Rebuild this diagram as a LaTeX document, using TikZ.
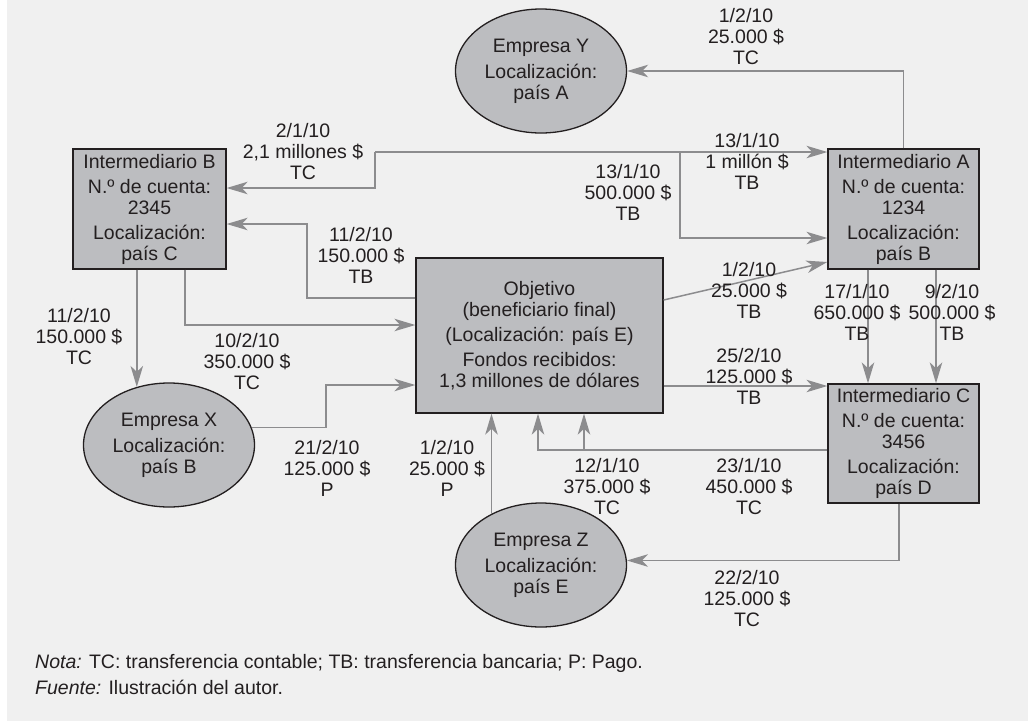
\documentclass[tikz,border=0pt]{standalone}
\usepackage{fontspec}
\setmainfont{Liberation Sans}
\usetikzlibrary{arrows.meta,shapes.geometric}

\definecolor{panel}{HTML}{F0F0F0}
\definecolor{boxfill}{HTML}{BCBDC0}
\definecolor{flow}{HTML}{8C8C8E}
\definecolor{ink}{HTML}{231F20}

\tikzset{
  txt/.style={font=\fontsize{19.5}{21}\selectfont, text=ink, align=center, inner sep=0pt},
  entity/.style={txt, draw=ink, fill=boxfill, line width=1.3pt, rectangle},
  company/.style={txt, draw=ink, fill=boxfill, line width=1.3pt, ellipse,
                  minimum width=171pt, minimum height=124pt},
  flowline/.style={draw=flow, line width=1.5pt,
                   -{Stealth[length=21pt,width=12.5pt,inset=6pt]}},
  flowplain/.style={draw=flow, line width=1.5pt},
  amount/.style={txt}
}

\begin{document}
\begin{tikzpicture}[x=1pt,y=-1pt]
  % panel
  \useasboundingbox (0,0) rectangle (1028,721);
  \fill[white] (0,0) rectangle (1028,721);
  \fill[panel] (7,0) rectangle (1028,721);

  % account holders
  \node[entity, minimum width=153pt, minimum height=120pt] (B) at (149.5,209)
    {Intermediario B\\[4pt]N.º de cuenta:\\2345\\[4pt]Localización:\\país C};
  \node[entity, minimum width=151pt, minimum height=120pt] (A) at (903.5,209)
    {Intermediario A\\[4pt]N.º de cuenta:\\1234\\[4pt]Localización:\\país B};
  \node[entity, minimum width=151pt, minimum height=119pt] (C) at (903.5,443.5)
    {Intermediario C\\[4pt]N.º de cuenta:\\3456\\[4pt]Localización:\\país D};
  \node[entity, minimum width=247pt, minimum height=155pt] (O) at (539.5,335.5)
    {Objetivo\\(beneficiario final)\\[4pt](Localización: país E)\\[4pt]Fondos recibidos:\\1,3 millones de dólares};

  % companies
  \node[company] (Y) at (541,71)  {Empresa Y\\[5pt]Localización:\\país A};
  \node[company] (X) at (169,445) {Empresa X\\[5pt]Localización:\\país B};
  \node[company] (Z) at (541,565) {Empresa Z\\[5pt]Localización:\\país E};

  % helper coordinates for the routed lines
  \coordinate (jTop) at (375,152);
  \coordinate (jMid) at (680,152);
  \coordinate (yB1)  at (0,188);
  \coordinate (yA2)  at (0,238);
  \coordinate (kB3)  at (307,224);
  \coordinate (yO3)  at (0,298);
  \coordinate (xB4)  at (185,0);
  \coordinate (yO4)  at (0,325);
  \coordinate (kX6)  at (326,385);
  \coordinate (yC8)  at (0,450);
  \coordinate (xO8)  at (538,0);
  \coordinate (xO8b) at (584,0);
  \coordinate (yC9)  at (0,386);
  \coordinate (yO10) at (0,300);
  \coordinate (yA10) at (0,262);
  \coordinate (xC11) at (868,0);
  \coordinate (xC12) at (936,0);
  \coordinate (xC13) at (899,0);

  % transfers
  \draw[flowline] (A.north) |- (Y.east);
  \draw[flowline] (jTop) |- (B.east |- yB1);
  \draw[flowline] (jTop) -- (A.west |- jTop);
  \draw[flowline] (jMid) |- (A.west |- yA2);
  \draw[flowline] (O.west |- yO3) -| (kB3) -- (B.east |- kB3);
  \draw[flowline] (B.south -| xB4) |- (O.west |- yO4);
  \draw[flowline] (B.south -| X.119) -- (X.119);
  \draw[flowline] (X.12) -| (kX6) -- (O.west |- kX6);
  \draw[flowline] (Z.134) -- (O.south -| Z.134);
  \draw[flowline] (C.west |- yC8) -| (O.south -| xO8);
  \draw[flowline] (yC8 -| xO8b) -- (O.south -| xO8b);
  \draw[flowline] (O.east |- yC9) -- (C.west |- yC9);
  \draw[flowline] (O.east |- yO10) -- (A.west |- yA10);
  \draw[flowline] (A.south -| xC11) -- (C.north -| xC11);
  \draw[flowline] (A.south -| xC12) -- (C.north -| xC12);
  \draw[flowline] (C.south -| xC13) |- (Z.3);

  % amounts
  \node[amount] (l1)  at (746,37)  {1/2/10\\25.000 \$\\TC};
  \node[amount] (l2)  at (303,152) {2/1/10\\2,1 millones \$\\TC};
  \node[amount] (l3)  at (747,161) {13/1/10\\1 millón \$\\TB};
  \node[amount] (l4)  at (628,192) {13/1/10\\500.000 \$\\TB};
  \node[amount] (l5)  at (361,255) {11/2/10\\150.000 \$\\TB};
  \node[amount] (l6)  at (749,290) {1/2/10\\25.000 \$\\TB};
  \node[amount] (l7)  at (857,312) {17/1/10\\650.000 \$\\TB};
  \node[amount] (l8)  at (952,312) {9/2/10\\500.000 \$\\TB};
  \node[amount] (l9)  at (79,337)  {11/2/10\\150.000 \$\\TC};
  \node[amount] (l10) at (247,362) {10/2/10\\350.000 \$\\TC};
  \node[amount] (l11) at (749,376) {25/2/10\\125.000 \$\\TB};
  \node[amount] (l12) at (327,468) {21/2/10\\125.000 \$\\P};
  \node[amount] (l13) at (447,468) {1/2/10\\25.000 \$\\P};
  \node[amount] (l14) at (607,487) {12/1/10\\375.000 \$\\TC};
  \node[amount] (l15) at (749,487) {23/1/10\\450.000 \$\\TC};
  \node[amount] (l16) at (747,599) {22/2/10\\125.000 \$\\TC};

  % notes
  \node[txt, align=left, anchor=west, font=\fontsize{19.5}{26}\selectfont] (notes) at (35,675)
    {\textit{Nota:} TC: transferencia contable; TB: transferencia bancaria; P: Pago.\\
     \textit{Fuente:} Ilustración del autor.};
\end{tikzpicture}
\end{document}
